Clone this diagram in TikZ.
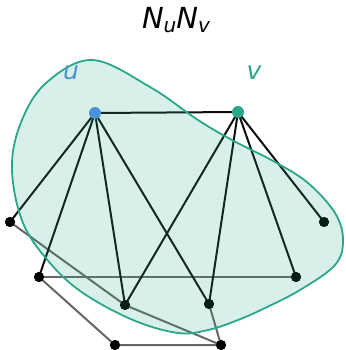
\documentclass[tikz,border=0pt]{standalone}
\usepackage{fontspec}
\setmainfont{DejaVu Sans}
\definecolor{ublue}{HTML}{4A94D6}
\definecolor{vgreen}{HTML}{2AA68A}
\definecolor{edgedark}{HTML}{0A0F0D}
\definecolor{edgegray}{HTML}{666666}
\tikzset{
  dot/.style={circle,fill=black,inner sep=0pt,minimum size=10pt},
  bigdot/.style={circle,inner sep=0pt,minimum size=12pt},
  darkedge/.style={draw=edgedark,line width=2pt},
  grayedge/.style={draw=edgegray,line width=2pt},
  lbl/.style={font=\fontsize{25}{25}\selectfont\itshape}
}
\begin{document}
\begin{tikzpicture}[x=1pt,y=-1pt]
\useasboundingbox (0,0) rectangle (345,350);
% title
\node[anchor=base,inner sep=0pt] (title) at (176,29) {\fontsize{29}{29}\selectfont\itshape N\raisebox{-4pt}{\fontsize{20}{20}\selectfont u}N\raisebox{-4pt}{\fontsize{20}{20}\selectfont v}};
% nodes
\coordinate (u) at (95,113);
\coordinate (v) at (238,112);
\node[dot] (a) at (10,222) {};
\node[dot] (b) at (39,277) {};
\node[dot] (c) at (125,305) {};
\node[dot] (d) at (209,304) {};
\node[dot] (e) at (296,277) {};
\node[dot] (f) at (324,222) {};
\node[dot] (g) at (115,345) {};
\node[dot] (h) at (221,345) {};
% gray edges
\draw[grayedge] (a.center) -- (c.center) -- (h.center);
\draw[grayedge] (b.center) -- (e.center);
\draw[grayedge] (b.center) -- (g.center) -- (h.center);
\draw[grayedge] (d.center) -- (h.center);
% dark edges
\foreach \t in {a,b,c,d} \draw[darkedge] (u) -- (\t.center);
\foreach \t in {c,d,e,f} \draw[darkedge] (v) -- (\t.center);
\draw[darkedge] (u) -- (v);
\foreach \t in {a,b,c,d,e,f,g,h} \node[dot] at (\t) {};
% blob
\draw[vgreen,line width=1.8pt,fill=vgreen,fill opacity=0.18] plot[smooth cycle,tension=0.6] coordinates {
(92,60) (150,87) (198,120) (232,140) (275,162) (308,183) (335,213) (343,240) (335,265) (300,290) (265,308) (238,320) (208,330) (178,333) (133,320) (83,293) (50,263) (23,223) (12,170) (20,125) (45,84)};
\node[bigdot,fill=ublue] (un) at (u) {};
\node[bigdot,fill=vgreen] (vn) at (v) {};
\node[lbl,text=ublue,anchor=base] (ul) at (71,80) {u};
\node[lbl,text=vgreen,anchor=base] (vl) at (254,80) {v};
\end{tikzpicture}
\end{document}
